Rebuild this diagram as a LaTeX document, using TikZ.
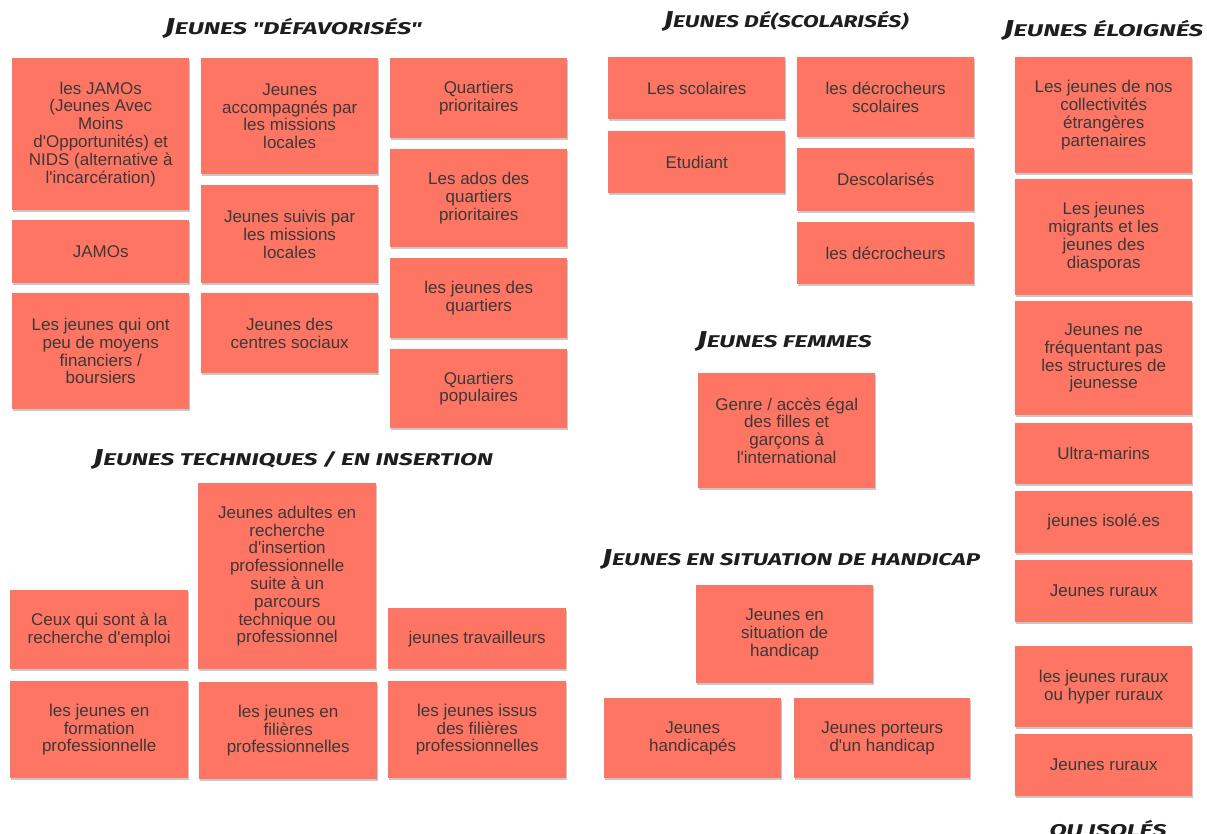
\documentclass[tikz,border=0pt]{standalone}
\usepackage{fontspec}
\usepackage{graphicx}
\setmainfont{Liberation Sans}[Ligatures=TeXOff]
\newfontfamily\titlefont{Fira Sans}
\usetikzlibrary{shadows}
\definecolor{coral}{HTML}{FF7563}
\definecolor{cardtext}{HTML}{3C3838}
\definecolor{titleink}{HTML}{1E1E1E}
\newcommand\Bg[1]{{\fontsize{23}{23}\selectfont #1}}
\tikzset{
  card/.style={anchor=north west, fill=coral, draw=none, inner sep=0pt,
    align=center, text=cardtext, font=\fontsize{17}{17.8}\selectfont,
    drop shadow={shadow xshift=0.6pt, shadow yshift=-1.6pt, opacity=0.22, fill=black}},
  heading/.style={anchor=base, inner sep=0pt, text=titleink,
    font=\titlefont\bfseries\itshape\fontsize{17}{17}\selectfont}
}
\newcommand\cardbox[6]{% name, x1, y1, x2, y2, text
  \node[card, minimum width={(#4-#2)*1pt}, minimum height={(#5-#3)*1pt}] (#1) at (#2,#3) {#6};}
\begin{document}
\begin{tikzpicture}[x=1pt,y=-1pt]
\useasboundingbox (0,0) rectangle (1207,834);
\fill[white] (0,0) rectangle (1207,834);

% Titles
\node[heading] (tdef) at (293,35) {\resizebox{257pt}{\height}{\Bg{J}EUNES "DÉFAVORISÉS"}};
\node[heading] (tsco) at (786,28) {\resizebox{245pt}{\height}{\Bg{J}EUNES DÉ(SCOLARISÉS)}};
\node[heading] (telo) at (1103,37) {\resizebox{200pt}{\height}{\Bg{J}EUNES ÉLOIGNÉS}};
\node[heading] (tfem) at (784,347) {\resizebox{175pt}{\height}{\Bg{J}EUNES FEMMES}};
\node[heading] (ttec) at (293,465) {\resizebox{400pt}{\height}{\Bg{J}EUNES TECHNIQUES / EN INSERTION}};
\node[heading] (than) at (791,565) {\resizebox{378pt}{\height}{\Bg{J}EUNES EN SITUATION DE HANDICAP}};
\node[heading] (tiso) at (1108,836) {\resizebox{117pt}{\height}{OU ISOLÉS}};

% Jeunes défavorisés
\cardbox{a1}{12}{58}{189}{210}{les JAMOs\\(Jeunes Avec\\Moins\\d'Opportunités) et\\NIDS (alternative à\\l'incarcération)}
\cardbox{a2}{12}{220}{189}{283}{JAMOs}
\cardbox{a3}{12}{293}{189}{409}{Les jeunes qui ont\\peu de moyens\\financiers /\\boursiers}
\cardbox{b1}{201}{58}{378}{174}{Jeunes\\accompagnés par\\les missions\\locales}
\cardbox{b2}{201}{185}{378}{283}{Jeunes suivis par\\les missions\\locales}
\cardbox{b3}{201}{293}{378}{373}{Jeunes des\\centres sociaux}
\cardbox{c1}{390}{58}{567}{138}{Quartiers\\prioritaires}
\cardbox{c2}{390}{149}{567}{247}{Les ados des\\quartiers\\prioritaires}
\cardbox{c3}{390}{258}{567}{338}{les jeunes des\\quartiers}
\cardbox{c4}{390}{349}{567}{428}{Quartiers\\populaires}

% Jeunes dé(scolarisés)
\cardbox{s1}{608}{57}{785}{119}{Les scolaires}
\cardbox{s2}{608}{131}{785}{193}{Etudiant}
\cardbox{s3}{797}{57}{974}{137}{les décrocheurs\\scolaires}
\cardbox{s4}{797}{148}{974}{211}{Descolarisés}
\cardbox{s5}{797}{222}{974}{284}{les décrocheurs}

% Jeunes éloignés
\cardbox{e1}{1015}{57}{1192}{173}{Les jeunes de nos\\collectivités\\étrangères\\partenaires}
\cardbox{e2}{1015}{179}{1192}{295}{Les jeunes\\migrants et les\\jeunes des\\diasporas}
\cardbox{e3}{1015}{301}{1192}{415}{Jeunes ne\\fréquentant pas\\les structures de\\jeunesse}
\cardbox{e4}{1015}{423}{1192}{484}{Ultra-marins}
\cardbox{e5}{1015}{491}{1192}{553}{jeunes isolé.es}
\cardbox{e6}{1015}{560}{1192}{622}{Jeunes ruraux}
\cardbox{e7}{1015}{646}{1192}{727}{les jeunes ruraux\\ou hyper ruraux}
\cardbox{e8}{1015}{734}{1192}{796}{Jeunes ruraux}

% Jeunes femmes
\cardbox{f1}{698}{373}{875}{488}{Genre / accès égal\\des filles et\\garçons à\\l'international}

% Jeunes en situation de handicap
\cardbox{h1}{696}{585}{873}{683}{Jeunes en\\situation de\\handicap}
\cardbox{h2}{604}{698}{781}{778}{Jeunes\\handicapés}
\cardbox{h3}{794}{698}{970}{778}{Jeunes porteurs\\d'un handicap}

% Jeunes techniques / en insertion
\cardbox{t1}{10}{590}{188}{669}{Ceux qui sont à la\\recherche d'emploi}
\cardbox{t2}{198}{483}{376}{669}{Jeunes adultes en\\recherche\\d'insertion\\professionnelle\\suite à un\\parcours\\technique ou\\professionnel}
\cardbox{t3}{388}{608}{566}{669}{jeunes travailleurs}
\cardbox{t4}{10}{681}{188}{778}{les jeunes en\\formation\\professionnelle}
\cardbox{t5}{199}{682}{377}{779}{les jeunes en\\filières\\professionnelles}
\cardbox{t6}{388}{681}{566}{778}{les jeunes issus\\des filières\\professionnelles}
\end{tikzpicture}
\end{document}
